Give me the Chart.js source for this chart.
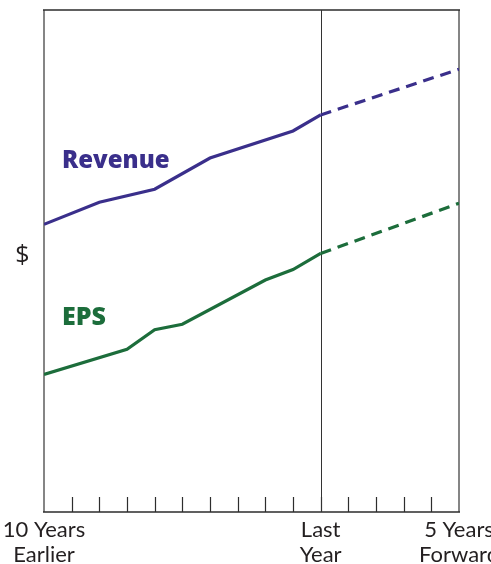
<!DOCTYPE html>
<html>
<head>
<meta charset="utf-8">
<script src="https://cdn.jsdelivr.net/npm/chart.js@4.4.1/dist/chart.umd.min.js"></script>
<style>
html,body{margin:0;padding:0;background:#fff;}
#wrap{width:491px;height:564px;position:relative;overflow:hidden;}
</style>
</head>
<body>
<div id="wrap"><canvas id="c" width="491" height="564"></canvas></div>
<script>
// ---- data ----
const tickValues = [0, 10, 15];
const tickLabels = [["10 Years", "Earlier"], ["Last", "Year"], ["5 Years", "Forward"]];
const seriesNames = ["Revenue", "EPS"];
const revenueYears = [0, 2, 4, 6, 9, 10];
const revenueValues = [57.3, 61.7, 64.3, 70.5, 75.9, 79.1];
const revenueForecastYears = [10, 15];
const revenueForecastValues = [79.1, 88.2];
const epsYears = [0, 3, 4, 5, 8, 9, 10];
const epsValues = [27.4, 32.4, 36.3, 37.4, 46.2, 48.3, 51.5];
const epsForecastYears = [10, 15];
const epsForecastValues = [51.5, 61.5];
const yAxisLabel = "$";
const dividerYear = 10;

const REV_COLOR = '#3a2f8b';
const EPS_COLOR = '#1c6d3b';

function pts(xs, ys) { return xs.map((x, i) => ({ x: x, y: ys[i] })); }

const decor = {
  id: 'decor',
  beforeDatasetsDraw(chart) {
    const { ctx, chartArea: a, scales: { x } } = chart;
    ctx.save();
    // frame
    ctx.strokeStyle = '#858585';
    ctx.lineWidth = 2;
    ctx.beginPath();
    ctx.moveTo(a.left, a.top); ctx.lineTo(a.left, a.bottom);
    ctx.moveTo(a.right, a.top); ctx.lineTo(a.right, a.bottom);
    ctx.stroke();
    ctx.strokeStyle = '#2d2d2d';
    ctx.lineWidth = 1.5;
    ctx.beginPath();
    ctx.moveTo(a.left - 1, a.top); ctx.lineTo(a.right + 1, a.top);
    ctx.moveTo(a.left - 1, a.bottom); ctx.lineTo(a.right + 1, a.bottom);
    ctx.stroke();
    // tick marks (inward)
    ctx.lineWidth = 1.2;
    ctx.beginPath();
    x.ticks.forEach(t => {
      const px = Math.round(x.getPixelForValue(t.value)) + 0.5;
      if (t.value === x.min || t.value === x.max) return;
      ctx.moveTo(px, a.bottom);
      ctx.lineTo(px, a.bottom - 15);
    });
    ctx.stroke();
    // divider line
    const dx = Math.round(x.getPixelForValue(dividerYear)) + 0.5;
    ctx.lineWidth = 1;
    ctx.strokeStyle = '#333';
    ctx.beginPath();
    ctx.moveTo(dx, a.top); ctx.lineTo(dx, a.bottom);
    ctx.stroke();
    ctx.restore();
  },
  afterDraw(chart) {
    const { ctx, chartArea: a } = chart;
    ctx.save();
    ctx.textBaseline = 'alphabetic';
    ctx.textAlign = 'left';
    ctx.font = '800 24px "Open Sans"';
    ctx.fillStyle = REV_COLOR;
    ctx.fillText(seriesNames[0], a.left + 18, 168);
    ctx.fillStyle = EPS_COLOR;
    ctx.font = '800 25px "Open Sans"';
    ctx.fillText(seriesNames[1], a.left + 18, 325);
    ctx.fillStyle = '#231f20';
    ctx.font = '25px "Open Sans"';
    ctx.textAlign = 'center';
    ctx.fillText(yAxisLabel, 22.5, 263);
    ctx.restore();
  }
};

new Chart(document.getElementById('c'), {
  type: 'line',
  data: {
    datasets: [
      { label: seriesNames[0], data: pts(revenueYears, revenueValues), borderColor: REV_COLOR, borderWidth: 3.2, pointRadius: 0, tension: 0, fill: false },
      { label: seriesNames[0] + ' forecast', data: pts(revenueForecastYears, revenueForecastValues), borderColor: REV_COLOR, borderWidth: 3.2, borderDash: [11, 7], pointRadius: 0, tension: 0, fill: false },
      { label: seriesNames[1], data: pts(epsYears, epsValues), borderColor: EPS_COLOR, borderWidth: 3.2, pointRadius: 0, tension: 0, fill: false },
      { label: seriesNames[1] + ' forecast', data: pts(epsForecastYears, epsForecastValues), borderColor: EPS_COLOR, borderWidth: 3.2, borderDash: [11, 7], pointRadius: 0, tension: 0, fill: false }
    ]
  },
  options: {
    responsive: false,
    animation: false,
    devicePixelRatio: 1,
    layout: { padding: { left: 44, right: 32, top: 10, bottom: 0 } },
    plugins: { legend: { display: false }, tooltip: { enabled: false } },
    scales: {
      x: {
        type: 'linear', min: 0, max: 15,
        grid: { display: false, drawTicks: false },
        border: { display: false },
        ticks: {
          stepSize: 1, autoSkip: false, maxRotation: 0, minRotation: 0, padding: 5,
          color: '#231f20',
          font: { family: 'Lato', size: 22, lineHeight: 1.15 },
          callback: (v) => { const i = tickValues.indexOf(v); return i >= 0 ? tickLabels[i] : ''; }
        },
        afterFit: (s) => { s.height = 52; s.paddingLeft = 0; s.paddingRight = 0; }
      },
      y: { display: false, min: 0, max: 100 }
    }
  },
  plugins: [decor]
});
</script>
</body>
</html>
